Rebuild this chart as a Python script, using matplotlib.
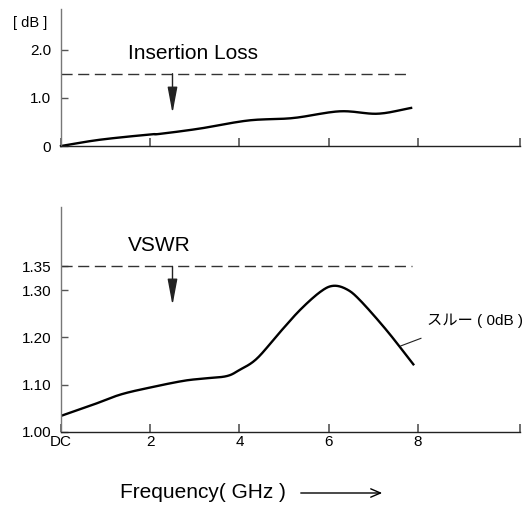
import matplotlib
matplotlib.use("Agg")
import matplotlib.pyplot as plt
import numpy as np

plt.rcParams['font.family'] = ['Liberation Sans', 'Noto Sans CJK JP', 'DejaVu Sans']

# insertion loss [dB] vs frequency [GHz]
il_freq = [0.0, 0.87, 2.0, 2.2, 3.1, 4.2, 5.2, 6.25, 7.1, 7.85]
il_db = [0.0, 0.13, 0.24, 0.25, 0.36, 0.53, 0.58, 0.72, 0.67, 0.79]

# VSWR vs frequency [GHz]
vs_freq = [0.0, 0.7, 1.33, 2.0, 2.74, 3.2, 3.71, 4.0, 4.39, 4.9, 5.36, 5.81, 6.1, 6.4, 6.70, 7.3, 7.9]
vs_val = [1.034, 1.057, 1.079, 1.094, 1.108, 1.113, 1.118, 1.131, 1.155, 1.21, 1.258, 1.296, 1.309, 1.302, 1.279, 1.215, 1.143]

il_limit = 1.5
vs_limit = 1.35
x_ticks = [0, 2, 4, 6, 8]
x_labels = ['DC', '2', '4', '6', '8']
il_ticks = [0, 1.0, 2.0]
il_labels = ['0', '1.0', '2.0']
vs_ticks = [1.00, 1.10, 1.20, 1.30, 1.35]
vs_labels = ['1.00', '1.10', '1.20', '1.30', '1.35']


def smooth(x, y):
    # simple catmull-rom through the read points
    x = np.asarray(x, float); y = np.asarray(y, float)
    px = np.concatenate([[2*x[0] - x[1]], x, [2*x[-1] - x[-2]]])
    py = np.concatenate([[2*y[0] - y[1]], y, [2*y[-1] - y[-2]]])
    ox, oy = [], []
    for i in range(1, len(px) - 2):
        t = np.linspace(0, 1, 20, endpoint=False)
        for p, o in ((px, ox), (py, oy)):
            p0, p1, p2, p3 = p[i-1], p[i], p[i+1], p[i+2]
            o.extend(0.5 * ((2*p1) + (-p0 + p2)*t + (2*p0 - 5*p1 + 4*p2 - p3)*t**2 + (-p0 + 3*p1 - 3*p2 + p3)*t**3))
    ox.append(x[-1]); oy.append(y[-1])
    return ox, oy


fig = plt.figure(figsize=(5.29, 5.07), dpi=100)
ax1 = fig.add_axes([0.1153, 0.712, 0.8677, 0.27])
ax2 = fig.add_axes([0.1153, 0.148, 0.8677, 0.444])

xmax = (520 - 61) / 44.6
arrow_style = '-|>,head_length=1.6,head_width=0.3'
for ax in (ax1, ax2):
    ax.set_xlim(0, xmax)
    ax.spines['top'].set_visible(False)
    ax.spines['right'].set_visible(False)
    ax.spines['left'].set_color('#777777')
    ax.spines['bottom'].set_color('#222222')
    ax.spines['left'].set_linewidth(1.0)
    ax.spines['bottom'].set_linewidth(1.0)
    ax.set_xticks(x_ticks + [xmax])
    ax.tick_params(axis='x', direction='in', length=6, color='#555555', width=1.2)
    ax.tick_params(axis='y', direction='in', length=5, color='#555555', width=1.0,
                   labelsize=11, pad=7)
    ax.patch.set_visible(False)

# top: insertion loss
ax1.set_ylim(0, 2.84)
ax1.set_yticks(il_ticks)
ax1.set_yticklabels(il_labels)
ax1.set_xticklabels([])
sx, sy = smooth(il_freq, il_db)
ax1.plot(sx, sy, color='black', lw=1.7, clip_on=False)
ax1.plot([0, 7.85], [il_limit, il_limit], color='#333333', lw=1.0, dashes=(8, 4))
ax1.annotate('', xy=(2.5, 0.68), xytext=(2.5, il_limit),
             arrowprops=dict(arrowstyle=arrow_style, color='#222222', lw=1.0,
                             shrinkA=0, shrinkB=0))
ax1.text(1.5, 1.92, 'Insertion Loss', fontsize=15, va='center', ha='left')
ax1.text(-0.3, 2.55, '[ dB ]', fontsize=10.5, va='center', ha='right')

# bottom: VSWR
ax2.set_ylim(1.0, 1.476)
ax2.set_yticks(vs_ticks)
ax2.set_yticklabels(vs_labels)
ax2.set_xticklabels(x_labels + [''], fontsize=11)
ax2.tick_params(axis='x', pad=2)
sx, sy = smooth(vs_freq, vs_val)
ax2.plot(sx, sy, color='black', lw=1.7)
ax2.plot([0, 7.87], [vs_limit, vs_limit], color='#333333', lw=1.0, dashes=(8, 4))
ax2.annotate('', xy=(2.5, 1.268), xytext=(2.5, vs_limit),
             arrowprops=dict(arrowstyle=arrow_style, color='#222222', lw=1.0,
                             shrinkA=0, shrinkB=0))
ax2.text(1.5, 1.395, 'VSWR', fontsize=15, va='center', ha='left')
ax2.plot([7.62, 8.07], [1.182, 1.198], color='#222222', lw=0.8)
ax2.text(8.2, 1.235, 'スルー ( 0dB )', fontsize=11, va='center', ha='left')

fig.text(120 / 529, 1 - 493 / 507, 'Frequency( GHz )', fontsize=15, va='center', ha='left')
fig.patches.append(matplotlib.patches.FancyArrowPatch(
    (298 / 529, 1 - 493 / 507), (385 / 529, 1 - 493 / 507), transform=fig.transFigure,
    arrowstyle='->,head_length=7,head_width=3', color='black', lw=1.0))

fig.savefig('out.png', dpi=100)
